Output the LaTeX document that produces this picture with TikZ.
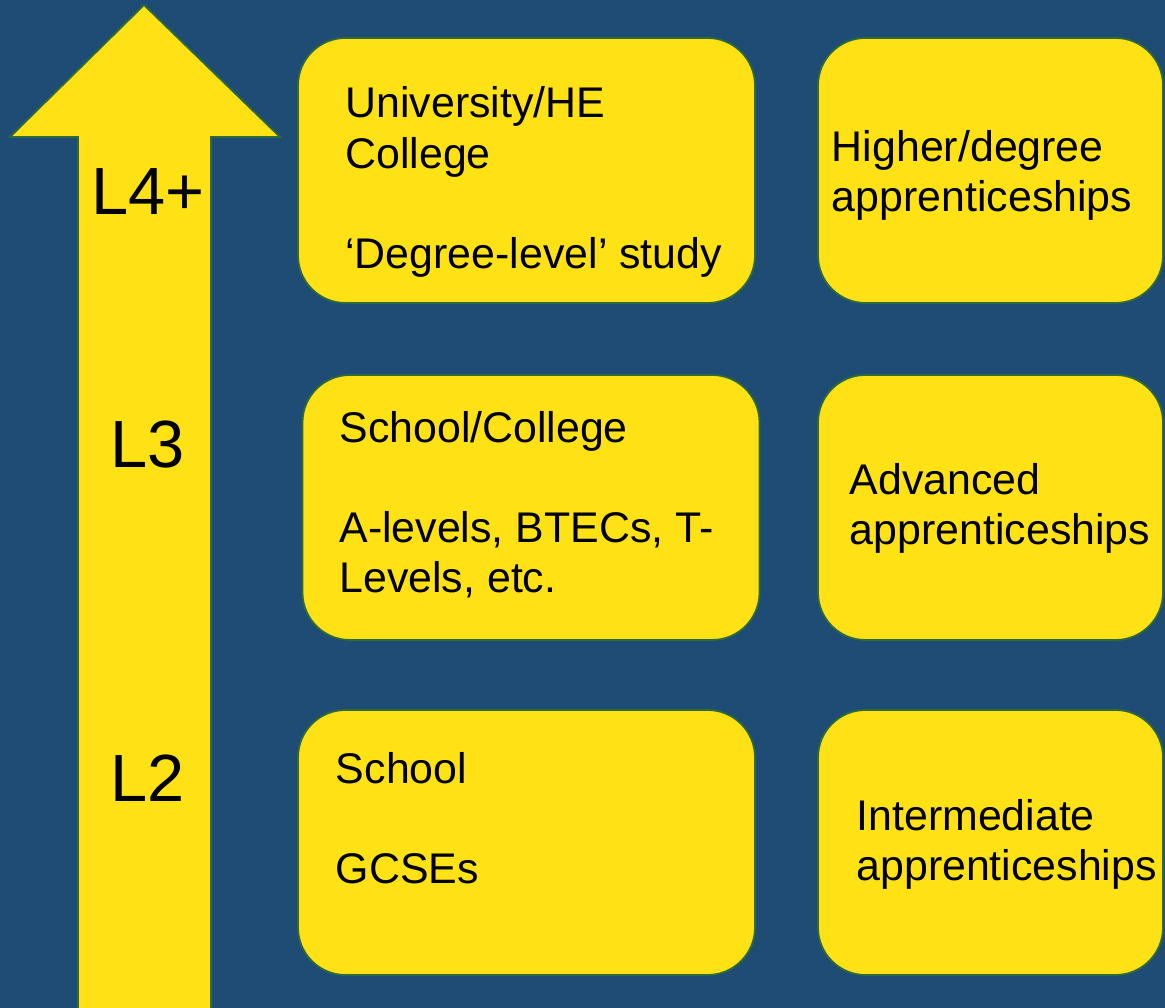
\documentclass[tikz,border=0pt]{standalone}
\usepackage{fontspec}
\setmainfont{Liberation Sans}
\usetikzlibrary{positioning}
\definecolor{navy}{RGB}{30,76,116}
\definecolor{sun}{RGB}{255,226,22}
\definecolor{rim}{RGB}{46,106,58}
\tikzset{
  route/.style={
    rectangle,
    rounded corners=0.95cm,
    draw=rim, line width=1pt,
    fill=sun,
    minimum height=5.3cm,
    inner sep=0pt
  },
  study/.style={
    route,
    minimum width=9.14cm
  },
  work/.style={
    route,
    minimum width=6.9cm
  },
  txt/.style={
    inner sep=0pt,
    align=left,
    font=\fontsize{24.4pt}{28.5pt}\selectfont
  },
  lvl/.style={
    inner sep=0pt,
    font=\fontsize{38pt}{40pt}\selectfont
  }
}

\begin{document}
\begin{tikzpicture}
\useasboundingbox (0,0) rectangle (23.3,20.16);
\clip (0,0) rectangle (23.3,20.16);
\fill[navy] (0,0) rectangle (23.3,20.16);

% arrow
\draw[rim, line width=1pt, fill=sun]
  (1.56,-0.3) -- (1.56,17.42) -- (0.2,17.42) -- (2.88,20.06)
  -- (5.6,17.42) -- (4.22,17.42) -- (4.22,-0.3);

\node[lvl] (l4) at (2.96,16.32) {L4+};
\node[lvl] (l3) at (2.96,11.26) {L3};
\node[lvl] (l2) at (2.96,4.6) {L2};

% boxes
\node[study] (s4) at (10.53,16.75) {};
\node[study] (s3) at (10.62,10.01) {};
\node[study] (s2) at (10.53,3.31) {};

\node[work] (w4) at (19.81,16.75) {};
\node[work] (w3) at (19.81,10.01) {};
\node[work] (w2) at (19.81,3.31) {};

% texts
\node[txt, right=0.96cm of s4.west, yshift=-0.23cm] (s4t)
  {University/HE\\College\\[28.5pt]‘Degree-level’ study};
\node[txt, right=0.75cm of s3.west, yshift=0.05cm] (s3t)
  {School/College\\[28.5pt]A-levels, BTECs, T-\\Levels, etc.};
\node[txt, right=0.77cm of s2.west, yshift=0.48cm] (s2t)
  {School\\[28.5pt]GCSEs};

\node[txt, right=0.29cm of w4.west, yshift=-0.1cm] (w4t)
  {Higher/degree\\apprenticeships};
\node[txt, right=0.65cm of w3.west, yshift=-0.02cm] (w3t)
  {Advanced\\apprenticeships};
\node[txt, right=0.78cm of w2.west, yshift=-0.03cm] (w2t)
  {Intermediate\\apprenticeships};
\end{tikzpicture}
\end{document}
